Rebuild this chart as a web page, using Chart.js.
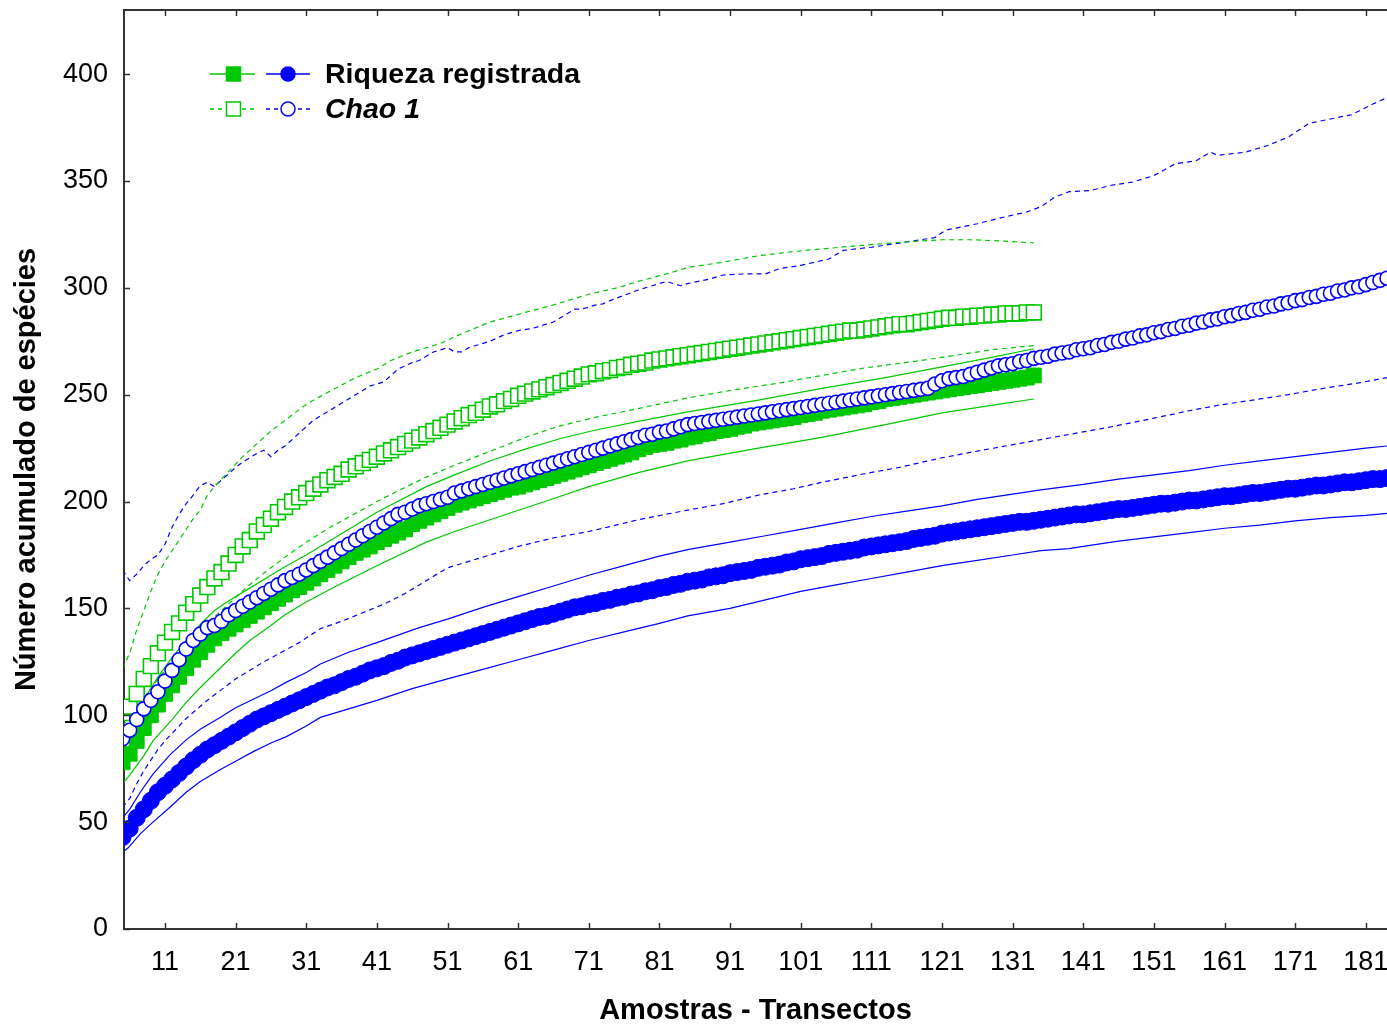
<!DOCTYPE html>
<html>
<head>
<meta charset="utf-8">
<script src="https://cdn.jsdelivr.net/npm/chart.js@4.4.1/dist/chart.umd.min.js"></script>
<style>
  html, body { margin: 0; padding: 0; background: #fff; }
  canvas { display: block; }
</style>
</head>
<body>
<canvas id="curvas" width="1387" height="1025"></canvas>
<script>
const amostraInicial = 5;
const ticksX = [11, 21, 31, 41, 51, 61, 71, 81, 91, 101, 111, 121, 131, 141, 151, 161, 171, 181];
const ticksY = [0, 50, 100, 150, 200, 250, 300, 350, 400];

// area A (verde), amostras 5..134
const riquezaVerde = [
  78, 82, 88, 94, 100, 105, 110, 114, 118, 122,
  126, 129.5, 133, 136, 138.5, 140.5, 142.5, 144.5, 146.5, 148.5,
  150.5, 152.5, 154.5, 156.5, 158.5, 160, 162, 164, 166, 168,
  170, 172, 174, 176, 177.5, 179, 181, 182.5, 184, 185.5,
  187, 189.5, 191, 192.5, 194, 195.5, 197, 198.5, 199.5, 200.5,
  201.5, 202.5, 203.5, 204.5, 205.5, 206.5, 207, 208, 209, 210,
  211, 212, 213, 214, 215, 216, 217, 218, 219, 220,
  221, 222, 223, 224.5, 225.5, 226.5, 227, 227.5, 228.5, 229,
  230, 230.5, 231.5, 232, 233, 233.5, 234, 235, 235.5, 236.5,
  237, 237.5, 238, 238.5, 239, 239.5, 240.5, 241, 241.5, 242.5,
  243, 243.5, 244, 244.5, 245, 245.5, 246.5, 247, 248, 248.5,
  249, 249.5, 250, 250.5, 251, 251.5, 252, 252.5, 253, 253.5,
  254, 254.5, 255, 255.5, 256, 256.5, 257, 257.5, 258, 259
];
const chao1Verde = [
  101, 104, 110, 117, 123, 129, 134, 139, 143, 148,
  152, 156, 160, 164, 167, 171, 175, 179, 182, 186,
  189, 192, 195, 197.5, 200, 202, 204, 206, 208, 210,
  211.5, 213, 215, 216.5, 218, 219.5, 221, 222.5, 224, 225.5,
  227, 228.5, 230, 231.5, 233, 234.5, 236, 237.5, 239, 240.5,
  241.5, 243, 244.5, 245.5, 247, 248, 249.5, 250.5, 251.5, 252.5,
  253.5, 254.5, 255.5, 256.5, 257.5, 258.5, 259.5, 260, 261, 261.5,
  262.5, 263, 264, 264.5, 265, 266, 266.5, 267, 267.5, 268,
  268.5, 269, 269.5, 270, 270.5, 271, 271.5, 272, 272.5, 273,
  273.5, 274, 274.5, 275, 275.5, 276, 276.5, 277, 277.5, 278,
  278.5, 279, 279.5, 280, 280, 280.5, 281, 281.5, 282, 282.5,
  283, 283, 283.5, 284, 284.5, 285, 285.5, 286, 286, 286.5,
  286.5, 287, 287, 287.5, 287.5, 288, 288, 288, 288.5, 288.5
];

// area B (azul), amostras 5..184
const riquezaAzul = [
  43, 47, 52, 56, 60, 64, 67, 70, 73, 76,
  79, 81.5, 84, 86, 88, 90, 92, 94, 96, 98,
  99.5, 101, 102.5, 104, 105.5, 107, 108.5, 110, 111.5, 113,
  114, 115.5, 117, 118, 119.5, 121, 122, 123, 124.5, 125.5,
  127, 128, 129, 130, 131, 132, 133, 134, 135, 136,
  137, 138, 139, 140, 141, 142, 143, 144, 145, 146,
  146.5, 147.5, 148.5, 149.5, 150.5, 151, 152, 152.5, 153.5, 154,
  155, 155.5, 156.5, 157, 158, 158.5, 159.5, 160, 161, 161.5,
  162.5, 163, 163.5, 164.5, 165, 165.5, 166.5, 167, 167.5, 168,
  169, 169.5, 170, 170.5, 171.5, 172, 173, 173.5, 174, 174.5,
  175.5, 176, 176.5, 177, 177.5, 178.5, 179, 179.5, 180, 180.5,
  181, 181.5, 182.5, 183, 183.5, 184, 185, 185.5, 186, 186.5,
  187, 187.5, 188, 188.5, 189, 189.5, 190, 190.5, 190.5, 191,
  191.5, 192, 192.5, 193, 193.5, 194, 194, 194.5, 195, 195.5,
  196, 196.5, 196.5, 197, 197.5, 198, 198.5, 199, 199, 199.5,
  200, 200.5, 200.5, 201, 201.5, 202, 202.5, 202.5, 203, 203.5,
  204, 204, 204.5, 205, 205.5, 206, 206, 206.5, 207, 207.5,
  207.5, 208, 208.5, 209, 209, 209.5, 210, 210.5, 210.5, 211
];
const chao1Azul = [
  89, 93, 98, 103, 107, 111, 116, 121, 126, 131,
  135, 138, 141, 142, 144, 147, 149, 151, 153, 155,
  157, 159, 161, 163, 164.5, 166, 168, 170, 172, 174,
  176, 178, 180, 182, 184, 186, 188, 190, 192, 194,
  195, 196.5, 198, 199, 200, 201, 202, 204, 205, 206,
  207, 208, 209, 210, 211, 212, 213, 214, 215, 216,
  217, 218, 219, 220, 221, 222, 223, 224, 225, 226,
  227, 228, 229, 230, 231, 231.5, 232.5, 233, 234, 235,
  236, 236.5, 237, 237.5, 238, 238.5, 239, 239.5, 240, 240.5,
  241, 241.5, 242, 242.5, 243, 243.5, 244, 244.5, 245, 245.5,
  246, 246.5, 247, 247.5, 248, 248.5, 249, 249.5, 250, 250.5,
  251, 251.5, 252, 252.5, 253, 255, 256.5, 257.5, 258, 258.5,
  259.5, 260.5, 261.5, 262.5, 263.5, 264, 264.5, 265.5, 266, 267,
  267.5, 268, 269, 269.5, 270, 271, 271.5, 272, 273, 273.5,
  274.5, 275, 276, 276.5, 277.5, 278, 279, 279.5, 280.5, 281,
  282, 282.5, 283.5, 284, 285, 285.5, 286.5, 287, 288, 288.5,
  289.5, 290, 291, 291.5, 292.5, 293, 294, 294.5, 295.5, 296,
  297, 297.5, 298.5, 299, 300, 300.5, 301.5, 302.5, 303.5, 304.5
];

// intervalos de confianca [amostra, valor]
const riquezaVerdeSup = [[5,91],[6,95],[8,107],[10,118],[12,127],[14,135],[16,142.5],[18,149],[20,153.5],[23,159.5],[26,165.5],[28,169.5],[31,175],[35,183],[41,195],[48,207],[52,212.5],[57,219],[62,224.5],[67,229.5],[72,233.5],[78,237.5],[85,242],[95,247.5],[104,253],[113,258],[121,263],[128,267.5],[134,271.5]];
const riquezaVerdeInf = [[5,68],[6,72],[8,81],[9.3,88],[12,98],[14,106],[16,113],[18.8,122],[21,129],[23,135],[26,142],[28,147],[31,153],[35,160],[41,170],[48,181],[52,186],[57,191.5],[62,197],[67,202.5],[71,207],[78,213.5],[85,219],[95,225],[104,230],[113,236],[121,241.5],[128,245],[134,248]];
const chao1VerdeSup = [[5,122],[6,129],[7,140],[8,149],[9,158],[10,166],[11,172],[12,177],[13,182],[14,187],[15,192],[16,196],[17,203],[18,207],[20,214],[22,221],[24,227],[26,233],[28,238],[31,245.5],[34,251],[38,258],[41,262],[43,266],[46,270],[50,274],[53,278.5],[57,284],[62,288.5],[66,292],[71,297],[75,300],[78,303],[82,306.5],[85,309.5],[90,312],[95,315],[100,317],[105,318.5],[110,320],[116,321.5],[121,322.5],[125,322.5],[129,322],[134,321]];
const chao1VerdeInf = [[5,95],[8,108],[10,117],[12,125],[15,136],[18,146],[20,152],[22.6,160],[25,166.5],[28,174],[31,181],[34.4,188],[38,194.5],[41,200],[44,205],[47.7,211],[52,217],[57,223.5],[62,230],[66.5,235],[72,239.5],[78,243.5],[85,248.5],[92,252.5],[98,255.5],[104,259],[110,262.5],[117,265.5],[123,268.5],[128,271],[134,273]];
const riquezaAzulSup = [[5,52],[6,56],[7.5,64],[9.3,72.5],[11.7,81.5],[14,88.5],[16,93.5],[18.8,99],[21,103.5],[23.5,107.5],[26,111.5],[28.2,115.5],[31,120],[33,124],[37,129.5],[41,134],[47,141],[51,145],[56,150.5],[61,155.5],[66,160.5],[71,165.5],[76,170],[81,174.5],[85,177.5],[91,181],[96,184],[101,187],[106,190],[111,193],[116,195.5],[121,198],[126,201],[131,203.5],[135,205.5],[141,208],[146,210.5],[151,212.5],[156,214.5],[161,217],[166,219],[171,221],[176,223],[181,225],[184,226]];
const riquezaAzulInf = [[5,36],[5.8,38],[7.5,44.5],[9.3,50],[11.7,57],[14,64],[16,69],[18.8,74.5],[21,78.5],[23.5,83],[26,87],[28.2,90],[31,95],[33,99],[37,103],[41,107],[46,112.5],[51,117],[56,121.5],[61,126],[66,130.5],[71,135],[76,139],[81,143],[85,146.5],[91,150],[96,154],[101,158],[106,161],[111,164],[116,167],[121,170],[126,172.5],[131,175],[135,177],[139,178],[141,179],[146,181.5],[151,183.5],[156,185.5],[161,187.5],[166,189],[171,191],[176,192.5],[181,193.5],[184,194.5]];
const chao1AzulSup = [[5,168],[6,163],[7,166],[8,170],[9,173],[10,175],[11,180],[12,188],[13,194],[14,199],[15,203],[16,207.5],[17,209],[18,207],[19,210],[20,213],[21,216],[22,218.5],[23,220.5],[24,222.5],[25,224],[26,221],[27,224],[28,226],[29,229],[30,232],[31,235],[32,238],[33,240],[34,242],[35,244],[36,246],[37,248],[38,250],[39,252],[40,254],[41,255],[42,256],[43,259],[44,262],[45,263.5],[46,265],[47,266],[48,268],[49,270],[50,271],[51,272],[52,270],[53,270],[54,272],[55,273],[57,275],[59,278],[61,280],[63,281],[64,282],[66,284],[67,286],[68,288],[69,290],[70,290],[72,292],[73,292.5],[74,294],[76,296.5],[78,299],[80,301],[82,303],[83,302],[84,301],[85,302],[88,304],[90,306],[93,306.5],[96,306.5],[98,309],[101,310.5],[105,313.5],[107,317.5],[111,319],[116,321.5],[120,323.5],[121.5,327],[126,330],[129,332.5],[133,335.5],[135,338],[137,342.5],[139,345],[142,345.5],[145,348],[148,349.5],[151,352.5],[154,358],[157,359.5],[159,363.5],[160,362],[164,363.5],[167,366.5],[170,370.5],[173,377],[176,379],[179,381],[182,386],[184,389]];
const chao1AzulInf = [[5,57],[6,61],[7,68],[8,74],[9,79],[10,84],[11,88],[12,91.5],[14,98.5],[17,107],[21,117],[25,125],[30,134],[33,140.5],[36,144],[39,148],[42,152],[45,157],[47,161],[51,169],[56,174],[61,179],[66,183],[71,186],[73,187.5],[78,191.5],[85,196],[90,199],[95,203],[100,206],[104,209],[110,213],[115,216],[121,220.5],[125,223],[130,226],[135,229],[140,232],[145,235],[151,239],[156,242.5],[160,245],[165,247.5],[170,250],[175,253],[180,255.5],[184,258]];

const VERDE = '#00c800';
const AZUL = '#0000ff';
const FONTE = "'Liberation Sans', Arial, sans-serif";

const porAmostra = vals => vals.map((v, i) => ({x: amostraInicial + i, y: v}));
const pares = lista => lista.map(p => ({x: p[0], y: p[1]}));

function linhaIC(dados, cor, tracejada) {
  return {
    data: pares(dados),
    borderColor: cor,
    borderWidth: 1.2,
    borderDash: tracejada ? [5, 4] : [],
    pointRadius: 0,
    fill: false,
    clip: 0,
    order: 10
  };
}

function serieMarcador(dados, cor, estilo, raio, cheio, ordem) {
  return {
    data: porAmostra(dados),
    borderColor: cor,
    borderWidth: 1,
    pointStyle: estilo,
    pointRadius: raio,
    pointBackgroundColor: cheio ? cor : '#ffffff',
    pointBorderColor: cor,
    pointBorderWidth: cheio ? 1 : 1.6,
    showLine: true,
    fill: false,
    clip: 0,
    order: ordem
  };
}

const bordaEMarcas = {
  id: 'bordaEMarcas',
  afterDraw(chart) {
    const {ctx, chartArea: a, scales: {x, y}} = chart;
    ctx.save();
    ctx.strokeStyle = '#333333';
    ctx.lineWidth = 2;
    ctx.beginPath();
    ctx.moveTo(a.left, a.top);
    ctx.lineTo(a.right, a.top);
    ctx.stroke();
    ctx.lineWidth = 1.5;
    ctx.beginPath();
    for (const v of ticksX) {
      const px = Math.round(x.getPixelForValue(v)) + 0.5;
      ctx.moveTo(px, a.bottom);
      ctx.lineTo(px, a.bottom - 6);
      ctx.moveTo(px, a.top);
      ctx.lineTo(px, a.top + 6);
    }
    for (const v of ticksY) {
      const py = Math.round(y.getPixelForValue(v)) + 0.5;
      ctx.moveTo(a.left, py);
      ctx.lineTo(a.left + 6, py);
    }
    ctx.stroke();
    ctx.restore();
  }
};

const legendaManual = {
  id: 'legendaManual',
  afterDraw(chart) {
    const ctx = chart.ctx;
    const linhas = [
      {y: 74, texto: 'Riqueza registrada', italico: false, cheio: true},
      {y: 109, texto: 'Chao 1', italico: true, cheio: false}
    ];
    ctx.save();
    for (const l of linhas) {
      ctx.lineWidth = 1.5;
      ctx.setLineDash(l.cheio ? [] : [4, 4]);
      ctx.strokeStyle = VERDE;
      ctx.beginPath(); ctx.moveTo(210, l.y); ctx.lineTo(255, l.y); ctx.stroke();
      ctx.strokeStyle = AZUL;
      ctx.beginPath(); ctx.moveTo(266, l.y); ctx.lineTo(310, l.y); ctx.stroke();
      ctx.setLineDash([]);
      ctx.fillStyle = l.cheio ? VERDE : '#ffffff';
      ctx.strokeStyle = VERDE;
      ctx.fillRect(226.5, l.y - 7, 14, 14);
      ctx.strokeRect(226.5, l.y - 7, 14, 14);
      ctx.fillStyle = l.cheio ? AZUL : '#ffffff';
      ctx.strokeStyle = AZUL;
      ctx.beginPath(); ctx.arc(288, l.y, 7, 0, Math.PI * 2); ctx.fill(); ctx.stroke();
      ctx.fillStyle = '#000000';
      ctx.font = (l.italico ? 'italic ' : '') + 'bold 28.5px ' + FONTE;
      ctx.textBaseline = 'middle';
      ctx.fillText(l.texto, 325, l.y + 1);
    }
    ctx.restore();
  }
};

const ctx = document.getElementById('curvas').getContext('2d');
new Chart(ctx, {
  type: 'line',
  data: {
    datasets: [
      serieMarcador(chao1Azul, AZUL, 'circle', 7, false, 1),
      serieMarcador(riquezaVerde, VERDE, 'rect', 10.5, true, 2),
      serieMarcador(chao1Verde, VERDE, 'rect', 10.5, false, 3),
      serieMarcador(riquezaAzul, AZUL, 'circle', 8.5, true, 4),
      linhaIC(riquezaVerdeSup, VERDE, false),
      linhaIC(riquezaVerdeInf, VERDE, false),
      linhaIC(chao1VerdeSup, VERDE, true),
      linhaIC(chao1VerdeInf, VERDE, true),
      linhaIC(riquezaAzulSup, AZUL, false),
      linhaIC(riquezaAzulInf, AZUL, false),
      linhaIC(chao1AzulSup, AZUL, true),
      linhaIC(chao1AzulInf, AZUL, true)
    ]
  },
  options: {
    responsive: false,
    animation: false,
    devicePixelRatio: 1,
    layout: { autoPadding: false, padding: { top: 10, right: 0, left: 0, bottom: 0 } },
    plugins: {
      legend: { display: false },
      tooltip: { enabled: false }
    },
    scales: {
      x: {
        type: 'linear',
        min: 5.2,
        max: 184,
        grid: { display: false, drawTicks: false },
        border: { display: true, color: '#333333', width: 2 },
        afterBuildTicks: s => { s.ticks = ticksX.map(v => ({value: v})); },
        afterFit: s => { s.height = 96; s.paddingLeft = 0; s.paddingRight = 0; },
        ticks: {
          color: '#000000',
          padding: 17,
          maxRotation: 0,
          autoSkip: false,
          font: { family: FONTE, size: 27 },
          callback: v => String(v)
        },
        title: {
          display: true,
          text: 'Amostras - Transectos',
          color: '#000000',
          font: { family: FONTE, size: 29, weight: 'bold', lineHeight: 1 },
          padding: { top: 0, bottom: 0 }
        }
      },
      y: {
        min: 0,
        max: 430,
        grid: { display: false, drawTicks: false },
        border: { display: true, color: '#333333', width: 2 },
        afterBuildTicks: s => { s.ticks = ticksY.map(v => ({value: v})); },
        afterFit: s => { s.width = 124; s.paddingTop = 0; s.paddingBottom = 0; },
        ticks: {
          color: '#000000',
          padding: 16,
          font: { family: FONTE, size: 27 },
          callback: v => String(v)
        },
        title: {
          display: true,
          text: 'Número acumulado de espécies',
          color: '#000000',
          font: { family: FONTE, size: 29, weight: 'bold', lineHeight: 1 },
          padding: { top: 12, bottom: 0 }
        }
      }
    }
  },
  plugins: [bordaEMarcas, legendaManual]
});
</script>
</body>
</html>
